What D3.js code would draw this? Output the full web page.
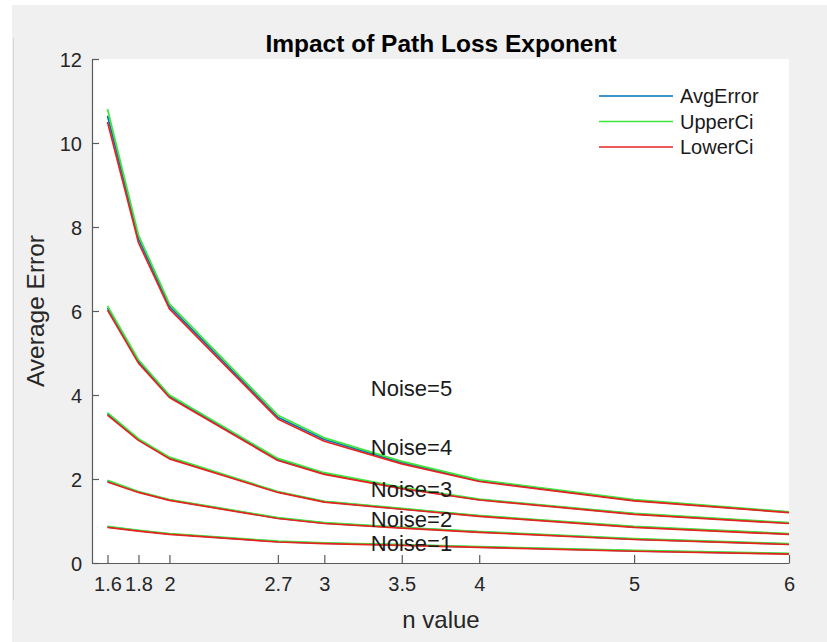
<!DOCTYPE html>
<html>
<head>
<meta charset="utf-8">
<script src="https://cdn.jsdelivr.net/npm/d3@7"></script>
<style>
  html, body { margin: 0; padding: 0; background: #ffffff; }
  svg { display: block; font-family: "Liberation Sans", Arial, Helvetica, sans-serif; }
</style>
</head>
<body>
<svg id="chart" width="827" height="642"></svg>
<script>
// Path loss exponent values (x positions of every sample and tick)
const nValues = [1.6, 1.8, 2, 2.7, 3, 3.5, 4, 5, 6];
const xTicks = [1.6, 1.8, 2, 2.7, 3, 3.5, 4, 5, 6];
const yTicks = [0, 2, 4, 6, 8, 10, 12];

// Average error and confidence bounds for each noise level
const noiseLevels = [5, 4, 3, 2, 1];

const avgNoise5 = [10.65, 7.72, 6.11, 3.47, 2.94, 2.39, 1.96, 1.49, 1.21];
const upNoise5  = [10.81, 7.81, 6.17, 3.52, 2.98, 2.42, 1.98, 1.51, 1.22];
const lowNoise5 = [10.50, 7.63, 6.05, 3.43, 2.90, 2.36, 1.94, 1.48, 1.20];

const avgNoise4 = [6.07, 4.80, 3.97, 2.46, 2.13, 1.78, 1.51, 1.17, 0.95];
const upNoise4  = [6.12, 4.84, 4.00, 2.49, 2.15, 1.80, 1.52, 1.18, 0.96];
const lowNoise4 = [6.02, 4.76, 3.94, 2.44, 2.11, 1.77, 1.50, 1.16, 0.94];

const avgNoise3 = [3.55, 2.94, 2.50, 1.69, 1.46, 1.29, 1.12, 0.86, 0.69];
const upNoise3  = [3.58, 2.96, 2.52, 1.70, 1.47, 1.30, 1.13, 0.87, 0.70];
const lowNoise3 = [3.52, 2.92, 2.48, 1.68, 1.45, 1.28, 1.11, 0.85, 0.68];

const avgNoise2 = [1.95, 1.69, 1.50, 1.07, 0.95, 0.84, 0.74, 0.57, 0.45];
const upNoise2  = [1.97, 1.70, 1.51, 1.08, 0.96, 0.85, 0.75, 0.58, 0.46];
const lowNoise2 = [1.93, 1.68, 1.49, 1.06, 0.94, 0.83, 0.73, 0.56, 0.44];

const avgNoise1 = [0.86, 0.77, 0.69, 0.51, 0.47, 0.43, 0.38, 0.29, 0.22];
const upNoise1  = [0.87, 0.78, 0.70, 0.52, 0.48, 0.44, 0.39, 0.30, 0.23];
const lowNoise1 = [0.85, 0.76, 0.68, 0.50, 0.46, 0.42, 0.37, 0.28, 0.21];

// Annotation anchors (data coordinates) for the noise labels
const labelX = 3.3;
const labelY = [4.15, 2.75, 1.75, 1.05, 0.47];

const seriesNames = ["AvgError", "UpperCi", "LowerCi"];
const seriesColors = ["#0072BD", "#3ee63e", "#e8231f"];

const groups = [
  [avgNoise5, upNoise5, lowNoise5],
  [avgNoise4, upNoise4, lowNoise4],
  [avgNoise3, upNoise3, lowNoise3],
  [avgNoise2, upNoise2, lowNoise2],
  [avgNoise1, upNoise1, lowNoise1]
];

const svg = d3.select("#chart");
const W = 827, H = 642;
const plot = { left: 92, right: 789, top: 59, bottom: 563 };

// figure background
svg.append("rect").attr("x", 0).attr("y", 0).attr("width", W).attr("height", H).attr("fill", "#ffffff");
svg.append("rect").attr("x", 12).attr("y", 5).attr("width", W - 12).attr("height", H - 5).attr("fill", "#f0f0f0");
svg.append("line").attr("x1", 13.5).attr("x2", 13.5).attr("y1", 38).attr("y2", 600)
  .attr("stroke", "#d6d6d6").attr("stroke-width", 1);

// axes area
svg.append("rect")
  .attr("x", plot.left).attr("y", plot.top)
  .attr("width", plot.right - plot.left).attr("height", plot.bottom - plot.top)
  .attr("fill", "#ffffff");

const x = d3.scaleLinear().domain([1.5, 6]).range([plot.left, plot.right]);
const y = d3.scaleLinear().domain([0, 12]).range([plot.bottom, plot.top]);

const line = d3.line()
  .x((d, i) => x(nValues[i]))
  .y(d => y(d));

// curves: average, upper and lower bound per noise level
const curves = svg.append("g");
groups.forEach(g => {
  g.forEach((vals, k) => {
    curves.append("path")
      .datum(vals)
      .attr("d", line)
      .attr("fill", "none")
      .attr("stroke", seriesColors[k])
      .attr("stroke-width", 1.7)
      .attr("stroke-linejoin", "round");
  });
});

// axes with inward ticks
const axisColor = "#5a5a5a";
const tickText = "#262626";

const xAxis = d3.axisBottom(x)
  .tickValues(xTicks)
  .tickFormat(d => String(d))
  .tickSizeInner(-8).tickSizeOuter(0).tickPadding(14);
const gx = svg.append("g").attr("transform", `translate(0,${plot.bottom})`).call(xAxis);

const yAxis = d3.axisLeft(y)
  .tickValues(yTicks)
  .tickFormat(d3.format("d"))
  .tickSizeInner(-7).tickSizeOuter(0).tickPadding(10);
const gy = svg.append("g").attr("transform", `translate(${plot.left},0)`).call(yAxis);

[gx, gy].forEach(g => {
  g.select(".domain").attr("stroke", axisColor).attr("stroke-width", 1.2);
  g.selectAll(".tick line").attr("stroke", axisColor).attr("stroke-width", 1.2);
  g.selectAll(".tick text")
    .attr("fill", tickText)
    .style("font-size", "20px")
    .style("font-family", "'Liberation Sans', Arial, sans-serif");
});
gx.selectAll(".tick text").attr("dy", "0.71em");
gy.selectAll(".tick text").attr("dy", "0.36em");

// title and axis labels
svg.append("text")
  .attr("x", 441).attr("y", 52)
  .attr("text-anchor", "middle")
  .style("font-size", "24.5px").style("font-weight", "bold")
  .attr("fill", "#000")
  .text("Impact of Path Loss Exponent");

svg.append("text")
  .attr("x", 441).attr("y", 628)
  .attr("text-anchor", "middle")
  .style("font-size", "24px")
  .attr("fill", tickText)
  .text("n value");

svg.append("text")
  .attr("transform", "translate(44,311) rotate(-90)")
  .attr("text-anchor", "middle")
  .style("font-size", "24.5px")
  .attr("fill", tickText)
  .text("Average Error");

// noise level annotations
svg.append("g").selectAll("text")
  .data(noiseLevels)
  .join("text")
  .attr("x", x(labelX))
  .attr("y", (d, i) => y(labelY[i]))
  .attr("dy", "0.35em")
  .style("font-size", "22px")
  .attr("fill", "#1a1a1a")
  .text(d => `Noise=${d}`);

// legend
const legend = svg.append("g");
seriesNames.forEach((name, i) => {
  const ly = 96 + i * 25.5;
  legend.append("line")
    .attr("x1", 599).attr("x2", 673).attr("y1", ly).attr("y2", ly)
    .attr("stroke", seriesColors[i]).attr("stroke-width", 1.6);
  legend.append("text")
    .attr("x", 680).attr("y", ly).attr("dy", "0.35em")
    .style("font-size", "20px")
    .attr("fill", "#1a1a1a")
    .text(name);
});
</script>
</body>
</html>
